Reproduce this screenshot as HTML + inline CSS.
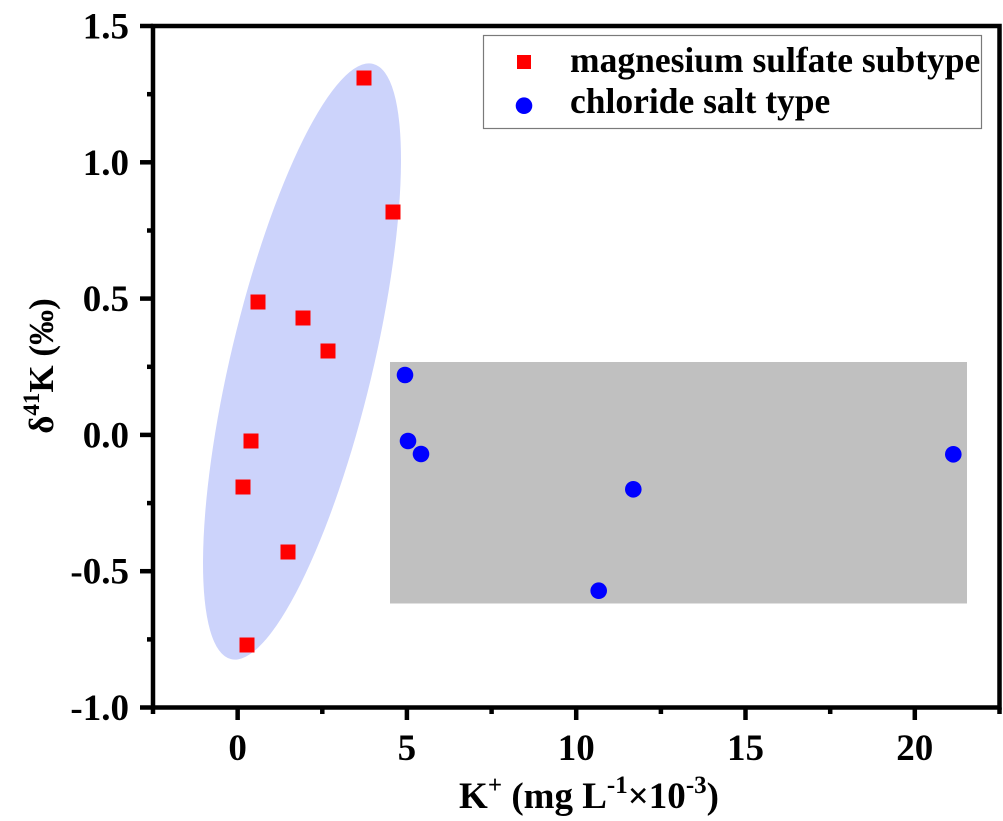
<!DOCTYPE html>
<html>
<head>
<meta charset="utf-8">
<style>
  html,body{margin:0;padding:0;background:#fff;}
  svg{display:block;}
  text{font-family:"Liberation Serif","DejaVu Serif",serif;font-weight:bold;fill:#000;}
</style>
</head>
<body>
<svg width="1003" height="821" viewBox="0 0 1003 821" xmlns="http://www.w3.org/2000/svg">
  <rect x="0" y="0" width="1003" height="821" fill="#fff"/>

  <!-- shaded regions -->
  <rect x="390" y="362" width="577" height="241.5" fill="#c0c0c0"/>
  <ellipse cx="302" cy="361.5" rx="71" ry="306" transform="rotate(13.4 302 361.5)" fill="#ccd3fb"/>

  <!-- squares -->
  <g fill="#ff0000">
    <rect x="356.5" y="70.5" width="15" height="15"/>
    <rect x="385.5" y="204.5" width="15" height="15"/>
    <rect x="250.5" y="294.5" width="15" height="15"/>
    <rect x="295.5" y="310.5" width="15" height="15"/>
    <rect x="320.5" y="343.5" width="15" height="15"/>
    <rect x="243.5" y="433.5" width="15" height="15"/>
    <rect x="235.5" y="479.5" width="15" height="15"/>
    <rect x="280.5" y="544.5" width="15" height="15"/>
    <rect x="239.5" y="637.5" width="15" height="15"/>
  </g>
  <!-- circles -->
  <g fill="#0000ff">
    <circle cx="405" cy="375" r="8.3"/>
    <circle cx="408" cy="441" r="8.3"/>
    <circle cx="421" cy="454" r="8.3"/>
    <circle cx="633.3" cy="489.3" r="8.3"/>
    <circle cx="598.7" cy="590.7" r="8.3"/>
    <circle cx="953.3" cy="454.3" r="8.3"/>
  </g>

  <!-- frame -->
  <rect x="153" y="26" width="846.5" height="681.5" fill="none" stroke="#000" stroke-width="4.5"/>

  <!-- y ticks -->
  <g stroke="#000" stroke-width="4.5">
    <line x1="140" y1="26" x2="153" y2="26"/>
    <line x1="140" y1="162.3" x2="153" y2="162.3"/>
    <line x1="140" y1="298.6" x2="153" y2="298.6"/>
    <line x1="140" y1="434.9" x2="153" y2="434.9"/>
    <line x1="140" y1="571.2" x2="153" y2="571.2"/>
    <line x1="140" y1="707.5" x2="153" y2="707.5"/>
    <line x1="147" y1="94.2" x2="153" y2="94.2"/>
    <line x1="147" y1="230.5" x2="153" y2="230.5"/>
    <line x1="147" y1="366.8" x2="153" y2="366.8"/>
    <line x1="147" y1="503.1" x2="153" y2="503.1"/>
    <line x1="147" y1="639.4" x2="153" y2="639.4"/>
  </g>
  <!-- x ticks -->
  <g stroke="#000" stroke-width="4.5">
    <line x1="237.65" y1="707.5" x2="237.65" y2="720"/>
    <line x1="406.9" y1="707.5" x2="406.9" y2="720"/>
    <line x1="576.2" y1="707.5" x2="576.2" y2="720"/>
    <line x1="745.5" y1="707.5" x2="745.5" y2="720"/>
    <line x1="914.8" y1="707.5" x2="914.8" y2="720"/>
    <line x1="153" y1="707.5" x2="153" y2="714"/>
    <line x1="322.3" y1="707.5" x2="322.3" y2="714"/>
    <line x1="491.6" y1="707.5" x2="491.6" y2="714"/>
    <line x1="660.9" y1="707.5" x2="660.9" y2="714"/>
    <line x1="830.2" y1="707.5" x2="830.2" y2="714"/>
    <line x1="999.5" y1="707.5" x2="999.5" y2="714"/>
  </g>

  <!-- y tick labels -->
  <g font-size="37" text-anchor="end">
    <text x="129" y="38.5">1.5</text>
    <text x="129" y="174.8">1.0</text>
    <text x="129" y="311.1">0.5</text>
    <text x="129" y="447.4">0.0</text>
    <text x="129" y="583.7">-0.5</text>
    <text x="129" y="720">-1.0</text>
  </g>
  <!-- x tick labels -->
  <g font-size="37" text-anchor="middle">
    <text x="237.65" y="760">0</text>
    <text x="406.9" y="760">5</text>
    <text x="576.2" y="760">10</text>
    <text x="745.5" y="760">15</text>
    <text x="914.8" y="760">20</text>
  </g>

  <!-- axis titles -->
  <text x="589" y="808" font-size="37" text-anchor="middle">K<tspan font-size="25" dy="-15">+</tspan><tspan dy="15"> (mg L</tspan><tspan font-size="25" dy="-15">-1</tspan><tspan dy="15">×10</tspan><tspan font-size="25" dy="-15">-3</tspan><tspan dy="15">)</tspan></text>

  <text transform="translate(53 366) rotate(-90)" font-size="35" text-anchor="middle">δ<tspan font-size="23" dy="-14">41</tspan><tspan dy="14">K (‰)</tspan></text>

  <!-- legend -->
  <rect x="483.5" y="35.5" width="498" height="93" fill="#fff" stroke="#7a7a7a" stroke-width="1.2"/>
  <rect x="517" y="55" width="14" height="14" fill="#ff0000"/>
  <circle cx="524" cy="105.7" r="8.3" fill="#0000ff"/>
  <text x="570" y="72" font-size="35.5">magnesium sulfate subtype</text>
  <text x="570" y="113" font-size="35.5">chloride salt type</text>
</svg>
</body>
</html>
